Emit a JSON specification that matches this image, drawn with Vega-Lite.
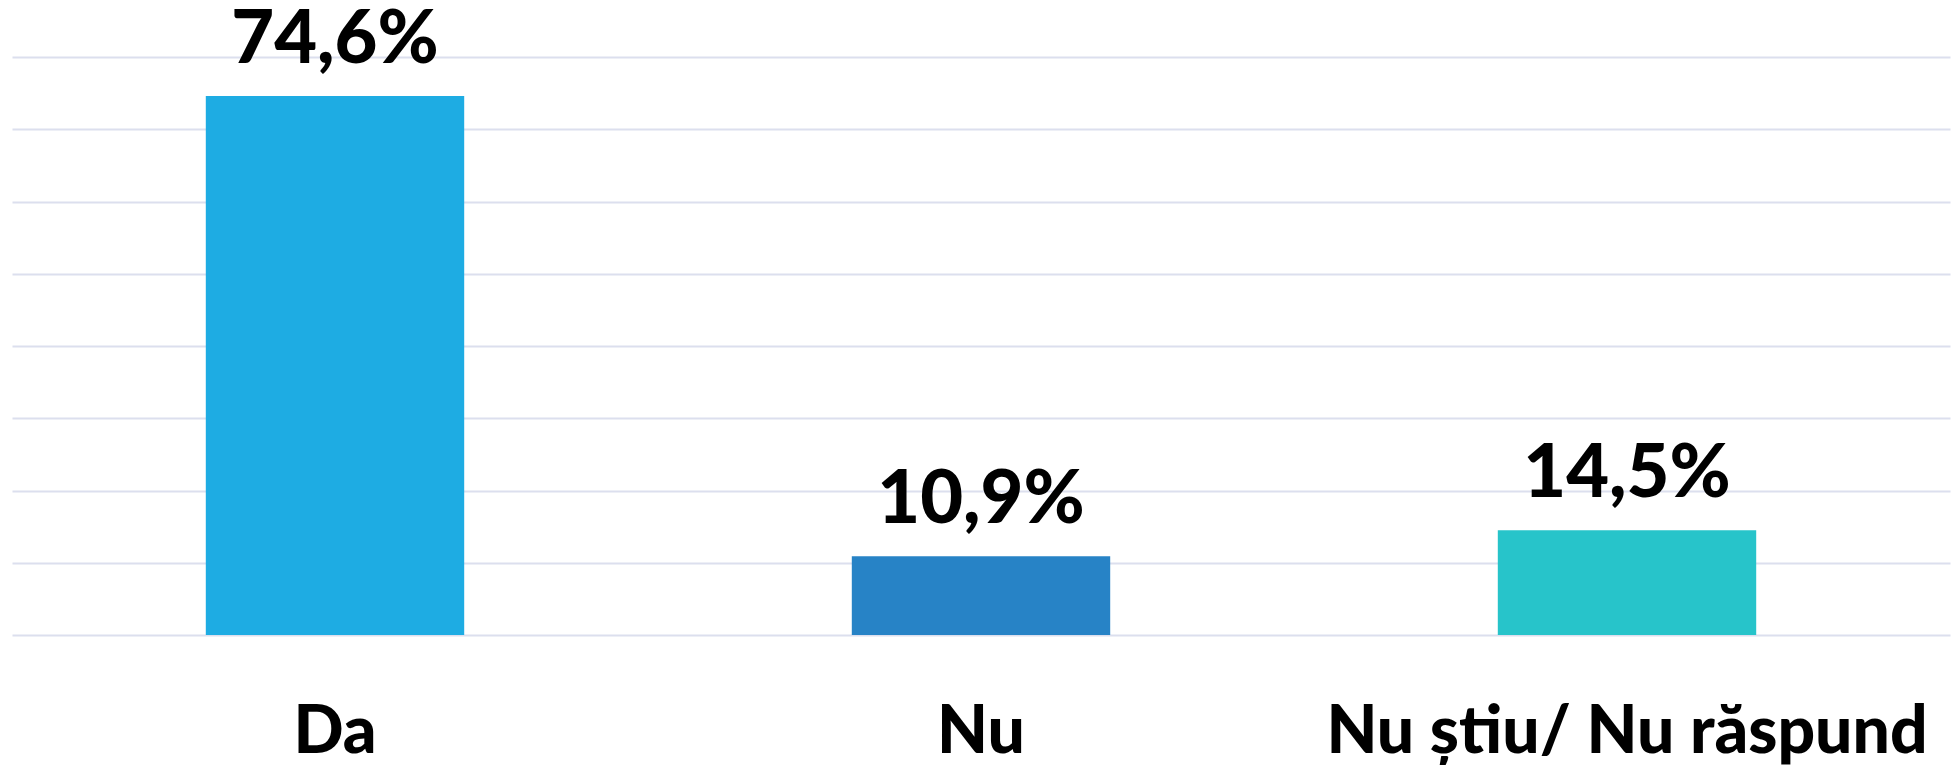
{
  "$schema": "https://vega.github.io/schema/vega-lite/v6.json",
  "width": 1938,
  "height": 578,
  "autosize": {"type": "none"},
  "padding": {"left": 12, "top": 57, "right": 7, "bottom": 130},
  "background": "white",
  "data": {
    "values": [
      {"cat": "Da", "value": 74.6, "label": "74,6%"},
      {"cat": "Nu", "value": 10.9, "label": "10,9%"},
      {"cat": "Nu știu/ Nu răspund", "value": 14.5, "label": "14,5%"}
    ]
  },
  "encoding": {
    "x": {
      "field": "cat",
      "type": "nominal",
      "sort": null,
      "scale": {"paddingInner": 0.6, "paddingOuter": 0.3},
      "axis": {
        "title": null,
        "labelAngle": 0,
        "domain": false,
        "ticks": false,
        "tickSize": 0,
        "grid": false,
        "labelFont": "Lato",
        "labelFontWeight": 900,
        "labelFontSize": 66,
        "labelColor": "#000000",
        "labelBaseline": "alphabetic",
        "labelPadding": 117,
        "labelLimit": 0,
        "labelOverlap": false
      }
    },
    "y": {
      "field": "value",
      "type": "quantitative",
      "scale": {"domain": [0, 80], "nice": false},
      "axis": {
        "title": null,
        "labels": false,
        "ticks": false,
        "domain": false,
        "values": [0, 10, 20, 30, 40, 50, 60, 70, 80],
        "grid": true,
        "gridColor": "#dcdfee",
        "gridWidth": 2
      }
    }
  },
  "layer": [
    {
      "mark": {"type": "bar"},
      "encoding": {
        "color": {
          "field": "cat",
          "type": "nominal",
          "sort": null,
          "scale": {"range": ["#1eace3", "#2783c6", "#27c4ca"]},
          "legend": null
        }
      }
    },
    {
      "mark": {
        "type": "text",
        "font": "Lato",
        "fontWeight": 900,
        "fontSize": 74,
        "color": "#000000",
        "baseline": "alphabetic",
        "dy": -33
      },
      "encoding": {
        "text": {"field": "label"}
      }
    }
  ],
  "config": {"view": {"stroke": null}}
}
